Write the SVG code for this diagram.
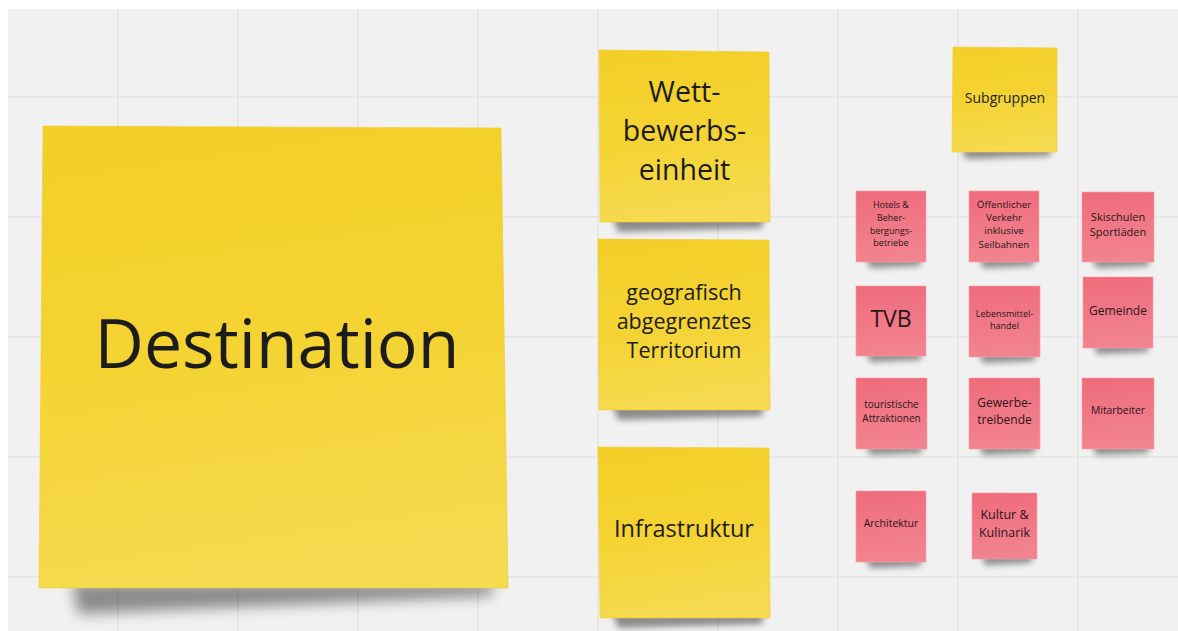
<svg xmlns="http://www.w3.org/2000/svg" width="1178" height="631" viewBox="0 0 1178 631">
  <defs>
    <linearGradient id="yellowFill" x1="0" y1="0" x2="0.15" y2="1">
      <stop offset="0" stop-color="#f3cf27"/>
      <stop offset="0.55" stop-color="#f4d333"/>
      <stop offset="1" stop-color="#f6da4f"/>
    </linearGradient>
    <linearGradient id="pinkFill" x1="0" y1="0" x2="0.1" y2="1">
      <stop offset="0" stop-color="#ef6b7c"/>
      <stop offset="1" stop-color="#f2848f"/>
    </linearGradient>
    <filter id="shadowBig" x="-20%" y="-100%" width="140%" height="300%">
      <feGaussianBlur stdDeviation="7"/>
    </filter>
    <filter id="shadowSmall" x="-20%" y="-150%" width="140%" height="400%">
      <feGaussianBlur stdDeviation="3"/>
    </filter>
    <style>
      .grid line { stroke: #e3e3e3; stroke-width: 1.5; }
      .yellow { fill: url(#yellowFill); stroke: #f0cc2a; stroke-width: 0.6; }
      .pink { fill: url(#pinkFill); stroke: #f3a0a9; stroke-width: 0.6; }
      .sh { fill: #000; opacity: 0.42; filter: url(#shadowSmall); }
      .shBig { fill: #000; opacity: 0.42; filter: url(#shadowBig); }
      text { font-family: "Open Sans", "Noto Sans", "DejaVu Sans", sans-serif; fill: #1c1c1c; text-anchor: middle; }
      .pk text { fill: #2a1518; }
    </style>
  </defs>

  <!-- board background -->
  <rect x="0" y="0" width="1178" height="631" fill="#ffffff"/>
  <rect x="8" y="9" width="1170" height="622" fill="#f1f1f1"/>
  <g class="grid">
    <line x1="118" y1="9" x2="118" y2="631"/>
    <line x1="238" y1="9" x2="238" y2="631"/>
    <line x1="358" y1="9" x2="358" y2="631"/>
    <line x1="478" y1="9" x2="478" y2="631"/>
    <line x1="598" y1="9" x2="598" y2="631"/>
    <line x1="718" y1="9" x2="718" y2="631"/>
    <line x1="838" y1="9" x2="838" y2="631"/>
    <line x1="958" y1="9" x2="958" y2="631"/>
    <line x1="1078" y1="9" x2="1078" y2="631"/>
    <line x1="8" y1="97" x2="1178" y2="97"/>
    <line x1="8" y1="217" x2="1178" y2="217"/>
    <line x1="8" y1="337" x2="1178" y2="337"/>
    <line x1="8" y1="457" x2="1178" y2="457"/>
    <line x1="8" y1="577" x2="1178" y2="577"/>
  </g>

  <!-- connectors: none on this board -->
  <g id="connectors"/>

  <!-- large yellow note -->
  <g id="destination">
    <polygon class="shBig" points="72,582 495,582 490,596 78,614"/>
    <polygon class="yellow" points="43,126 501,128 508,588 39,588"/>
    <text x="277" y="368" font-size="68">Destination</text>
  </g>

  <!-- yellow notes, middle column -->
  <g id="wettbewerbseinheit">
    <polygon class="sh" points="612,216 764,216 762,228 618,232"/>
    <polygon class="yellow" points="599,50 769,52 770,222 600,222"/>
    <text font-size="28.5"><tspan x="684.5" y="102">Wett-</tspan><tspan x="684.5" y="141">bewerbs-</tspan><tspan x="684.5" y="180">einheit</tspan></text>
  </g>
  <g id="territorium">
    <polygon class="sh" points="612,404 764,404 762,416 618,420"/>
    <polygon class="yellow" points="598,239 769,240 770,410 599,410"/>
    <text font-size="21.5"><tspan x="684" y="300">geografisch</tspan><tspan x="684" y="329">abgegrenztes</tspan><tspan x="684" y="358">Territorium</tspan></text>
  </g>
  <g id="infrastruktur">
    <polygon class="sh" points="612,612 764,612 762,624 618,628"/>
    <polygon class="yellow" points="598,447 769,448 770,618 600,618"/>
    <text x="684" y="537" font-size="23.5">Infrastruktur</text>
  </g>
  <g id="subgruppen">
    <polygon class="sh" points="962,147 1052,147 1050,156 966,159"/>
    <polygon class="yellow" points="953,47 1057,48 1057,152 952,152"/>
    <text x="1005" y="103" font-size="14">Subgruppen</text>
  </g>

  <!-- pink notes -->
  <g class="pk">
    <g id="hotels">
      <polygon class="sh" points="866,257 922,257 920,266 870,268"/>
      <rect class="pink" x="856" y="191" width="70" height="71"/>
      <text font-size="9"><tspan x="891" y="208">Hotels &amp;</tspan><tspan x="891" y="221">Beher-</tspan><tspan x="891" y="234">bergungs-</tspan><tspan x="891" y="246">betriebe</tspan></text>
    </g>
    <g id="verkehr">
      <polygon class="sh" points="979,257 1035,257 1033,266 983,268"/>
      <rect class="pink" x="969" y="191" width="70" height="71"/>
      <text font-size="9.8"><tspan x="1004" y="208">Öffentlicher</tspan><tspan x="1004" y="221">Verkehr</tspan><tspan x="1004" y="234">inklusive</tspan><tspan x="1004" y="248">Seilbahnen</tspan></text>
    </g>
    <g id="skischulen">
      <polygon class="sh" points="1092,257 1150,257 1148,266 1096,268"/>
      <rect class="pink" x="1082" y="192" width="72" height="70"/>
      <text font-size="11"><tspan x="1118" y="221">Skischulen</tspan><tspan x="1118" y="236">Sportläden</tspan></text>
    </g>
    <g id="tvb">
      <polygon class="sh" points="866,351 922,351 920,360 870,362"/>
      <rect class="pink" x="856" y="286" width="70" height="70"/>
      <text x="891" y="327" font-size="23">TVB</text>
    </g>
    <g id="lebensmittel">
      <polygon class="sh" points="979,352 1036,352 1034,361 983,363"/>
      <rect class="pink" x="969" y="286" width="71" height="71"/>
      <text font-size="9"><tspan x="1004.5" y="317">Lebensmittel-</tspan><tspan x="1004.5" y="329">handel</tspan></text>
    </g>
    <g id="gemeinde">
      <polygon class="sh" points="1093,343 1149,343 1147,352 1097,354"/>
      <rect class="pink" x="1083" y="277" width="70" height="71"/>
      <text x="1118" y="315" font-size="12">Gemeinde</text>
    </g>
    <g id="attraktionen">
      <polygon class="sh" points="866,444 923,444 921,453 870,455"/>
      <rect class="pink" x="856" y="378" width="71" height="71"/>
      <text font-size="10"><tspan x="891.5" y="408">touristische</tspan><tspan x="891.5" y="422">Attraktionen</tspan></text>
    </g>
    <g id="gewerbetreibende">
      <polygon class="sh" points="979,444 1036,444 1034,453 983,455"/>
      <rect class="pink" x="969" y="378" width="71" height="71"/>
      <text font-size="12"><tspan x="1004.5" y="407">Gewerbe-</tspan><tspan x="1004.5" y="424">treibende</tspan></text>
    </g>
    <g id="mitarbeiter">
      <polygon class="sh" points="1092,444 1150,444 1148,453 1096,455"/>
      <rect class="pink" x="1082" y="378" width="72" height="71"/>
      <text x="1118" y="414" font-size="10.3">Mitarbeiter</text>
    </g>
    <g id="architektur">
      <polygon class="sh" points="866,557 922,557 920,566 870,568"/>
      <rect class="pink" x="856" y="491" width="70" height="71"/>
      <text x="891" y="527" font-size="10.5">Architektur</text>
    </g>
    <g id="kultur">
      <polygon class="sh" points="981,554 1033,554 1031,563 985,565"/>
      <rect class="pink" x="972" y="493" width="65" height="66"/>
      <text font-size="12.5"><tspan x="1004.5" y="519">Kultur &amp;</tspan><tspan x="1004.5" y="537">Kulinarik</tspan></text>
    </g>
  </g>
</svg>
